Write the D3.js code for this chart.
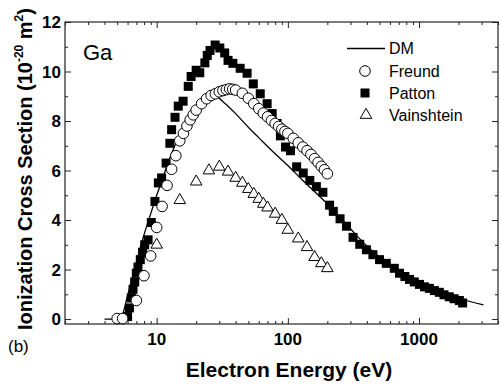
<!DOCTYPE html>
<html>
<head>
<meta charset="utf-8">
<script src="https://cdn.jsdelivr.net/npm/d3@7"></script>
<style>
  body { margin: 0; background: #fff; }
  text { font-family: "Liberation Sans", Arial, sans-serif; fill: #000; }
</style>
</head>
<body>
<div id="chart"></div>
<script>
//data (energy in eV, cross section in 1e-20 m^2)
var dmEnergy = [4, 5, 5.4, 6, 7, 8, 9, 10, 11, 12, 14, 16, 18, 20, 23, 26.4, 29, 33, 40, 51, 60, 75, 100, 130, 175, 230, 300, 400, 500, 700, 1000, 1500, 2000, 3100];
var dmSigma = [0, 0, 0.1, 0.95, 2.3, 3.4, 4.25, 5.0, 5.6, 6.2, 7.1, 7.7, 8.15, 8.5, 8.85, 8.97, 8.95, 8.72, 8.3, 7.7, 7.33, 6.82, 6.2, 5.6, 4.95, 4.33, 3.65, 2.95, 2.5, 1.98, 1.5, 1.1, 0.84, 0.57];

var freundEnergy = [5.0, 5.5, 7, 8, 9, 10, 11, 12, 13, 14, 15, 16, 17, 18, 19, 20, 22, 24, 26, 28, 30, 32, 34, 36, 38, 40, 45, 50, 55, 60, 65, 70, 75, 80, 85, 90, 95, 100, 110, 120, 130, 140, 150, 160, 170, 180, 190, 200];
var freundSigma = [0.02, 0.02, 0.75, 1.75, 2.55, 3.7, 4.55, 5.4, 6.05, 6.6, 7.2, 7.5, 7.8, 8.05, 8.25, 8.44, 8.7, 8.9, 9.03, 9.1, 9.18, 9.23, 9.27, 9.3, 9.28, 9.25, 9.12, 8.92, 8.7, 8.5, 8.32, 8.17, 8.02, 7.9, 7.78, 7.67, 7.58, 7.5, 7.3, 7.12, 6.95, 6.8, 6.65, 6.48, 6.33, 6.17, 6.03, 5.87];

var pattonEnergy = [6.0, 6.2, 6.4, 6.6, 6.8, 7.0, 7.2, 7.5, 7.8, 8.1, 8.6, 9.1, 9.7, 10.3, 10.9, 11.8, 12.6, 13.0, 13.8, 14.6, 15.9, 17.4, 18.3, 20.0, 21.3, 23.3, 24.3, 25.5, 27.9, 30.3, 33.0, 35.0, 38.1, 43.3, 48.9, 54.5, 61.6, 69.5, 75.9, 82.7, 87.7, 96, 104.7, 116.7, 131, 147, 165, 185, 208, 222, 250, 280, 314, 353, 397, 445, 500, 563, 648, 710, 780, 846, 920, 1008, 1100, 1200, 1310, 1428, 1550, 1700, 1850, 2030, 2150];
var pattonSigma = [0.1, 0.45, 0.85, 1.2, 1.5, 1.85, 2.1, 2.4, 2.7, 3.0, 3.2, 3.9, 4.75, 5.5, 5.7, 6.3, 7.1, 7.65, 8.15, 8.6, 8.8, 9.4, 9.8, 10.05, 9.95, 10.35, 10.65, 10.85, 11.07, 10.95, 10.75, 10.45, 10.33, 10.13, 9.93, 9.5, 9.1, 8.7, 8.3, 7.9, 7.4, 6.95, 6.8, 6.15, 5.9, 5.6, 5.35, 5.12, 4.6, 4.35, 4.05, 3.75, 3.3, 3.02, 2.8, 2.6, 2.4, 2.25, 2.05, 1.85, 1.72, 1.6, 1.5, 1.4, 1.3, 1.24, 1.15, 1.08, 0.98, 0.9, 0.82, 0.75, 0.65];

var vainEnergy = [10, 15, 20, 25, 30, 35, 40, 45, 50, 55, 60, 65, 70, 80, 90, 100, 120, 140, 160, 180, 200];
var vainSigma = [3.0, 4.8, 5.55, 6.0, 6.15, 5.95, 5.7, 5.5, 5.25, 5.05, 4.85, 4.65, 4.5, 4.25, 4.0, 3.6, 3.25, 2.9, 2.5, 2.25, 2.05];

var yTicks = [0, 2, 4, 6, 8, 10, 12];
var xTicks = [10, 100, 1000];
var legendNames = ["DM", "Freund", "Patton", "Vainshtein"];

//svg and plot area
var svgW = 501;
var svgH = 387;
var margin = { top: 22, right: 3, bottom: 63, left: 65 };
var width = svgW - margin.left - margin.right;
var height = svgH - margin.top - margin.bottom;

var svg = d3.select("#chart").append("svg")
    .attr("width", svgW)
    .attr("height", svgH);

var chartGroup = svg.append("g")
    .attr("transform", `translate(${margin.left}, ${margin.top})`);

//scales
var x = d3.scaleLog().domain([2, 4000]).range([0, width]);
var y = d3.scaleLinear().domain([-0.2, 12]).range([height, 0]);

//minor tick values for log axis
var xMinor = [];
[1, 10, 100, 1000].forEach(function(dec) {
    for (var k = 2; k <= 9; k++) {
        var v = k * dec;
        if (v >= 2 && v <= 4000) xMinor.push(v);
    }
});
var yMinor = [1, 3, 5, 7, 9, 11];

//axes with inward ticks, on all four sides
function drawTicks(axis, values, size, transform) {
    chartGroup.append("g")
        .attr("transform", transform)
        .call(axis.tickValues(values).tickSize(size).tickFormat(""))
        .call(g => g.select(".domain").remove())
        .selectAll("line").attr("stroke", "#222").attr("stroke-width", 1);
}
drawTicks(d3.axisTop(x), xTicks, 6, `translate(0, ${height})`);
drawTicks(d3.axisTop(x), xMinor, 3, `translate(0, ${height})`);
drawTicks(d3.axisBottom(x), xTicks, 6, "translate(0, 0)");
drawTicks(d3.axisBottom(x), xMinor, 3, "translate(0, 0)");
drawTicks(d3.axisRight(y), yTicks, 6, "translate(0, 0)");
drawTicks(d3.axisRight(y), yMinor, 3, "translate(0, 0)");
drawTicks(d3.axisLeft(y), yTicks, 6, `translate(${width}, 0)`);
drawTicks(d3.axisLeft(y), yMinor, 3, `translate(${width}, 0)`);

//frame
chartGroup.append("rect")
    .attr("width", width)
    .attr("height", height)
    .attr("fill", "none")
    .attr("stroke", "#222")
    .attr("stroke-width", 1.2);

//tick labels
chartGroup.selectAll(".ylab")
    .data(yTicks)
    .enter()
    .append("text")
    .attr("x", -4)
    .attr("y", d => y(d) + 6)
    .attr("text-anchor", "end")
    .attr("font-size", "17px")
    .attr("font-weight", "bold")
    .text(d => d);

chartGroup.selectAll(".xlab")
    .data(xTicks)
    .enter()
    .append("text")
    .attr("x", d => x(d))
    .attr("y", height + 21)
    .attr("text-anchor", "middle")
    .attr("font-size", "17px")
    .attr("font-weight", "bold")
    .text(d => d);

//axis titles
svg.append("text")
    .attr("x", 289)
    .attr("y", 377)
    .attr("text-anchor", "middle")
    .attr("font-size", "21px")
    .attr("font-weight", "bold")
    .text("Electron Energy (eV)");

var yTitle = svg.append("text")
    .attr("transform", "translate(32, 169) rotate(-90)")
    .attr("text-anchor", "middle")
    .attr("font-size", "20px")
    .attr("font-weight", "bold");
yTitle.append("tspan").text("Ionization Cross Section (10");
yTitle.append("tspan").attr("font-size", "12px").attr("dy", -9).text("-20");
yTitle.append("tspan").attr("dy", 9).text(" m");
yTitle.append("tspan").attr("font-size", "12px").attr("dy", -9).text("2");
yTitle.append("tspan").attr("dy", 9).text(")");

svg.append("text")
    .attr("x", 8)
    .attr("y", 352)
    .attr("font-size", "17px")
    .text("(b)");

svg.append("text")
    .attr("x", 83)
    .attr("y", 60)
    .attr("font-size", "22px")
    .text("Ga");

//DM line
var line = d3.line()
    .x(d => x(d[0]))
    .y(d => y(d[1]))
    .curve(d3.curveMonotoneX);

chartGroup.append("path")
    .datum(d3.zip(dmEnergy, dmSigma))
    .attr("d", line)
    .attr("fill", "none")
    .attr("stroke", "#000")
    .attr("stroke-width", 1.3);

//Patton filled squares
var sq = 9;
chartGroup.selectAll(".patton")
    .data(d3.zip(pattonEnergy, pattonSigma))
    .enter()
    .append("rect")
    .attr("x", d => x(d[0]) - sq / 2)
    .attr("y", d => y(d[1]) - sq / 2)
    .attr("width", sq)
    .attr("height", sq)
    .attr("fill", "#000");

//Freund open circles
chartGroup.selectAll(".freund")
    .data(d3.zip(freundEnergy, freundSigma))
    .enter()
    .append("circle")
    .attr("cx", d => x(d[0]))
    .attr("cy", d => y(d[1]))
    .attr("r", 5.3)
    .attr("fill", "#fff")
    .attr("stroke", "#000")
    .attr("stroke-width", 1);

//Vainshtein open triangles
var tri = d3.symbol().type(d3.symbolTriangle).size(58);
chartGroup.selectAll(".vain")
    .data(d3.zip(vainEnergy, vainSigma))
    .enter()
    .append("path")
    .attr("d", tri)
    .attr("transform", d => `translate(${x(d[0])}, ${y(d[1])})`)
    .attr("fill", "#fff")
    .attr("stroke", "#000")
    .attr("stroke-width", 1);

//legend
var legend = svg.append("g");
var rowY = [48.5, 71, 93, 115];

legend.append("line")
    .attr("x1", 347).attr("x2", 385)
    .attr("y1", rowY[0]).attr("y2", rowY[0])
    .attr("stroke", "#000").attr("stroke-width", 1.3);
legend.append("circle")
    .attr("cx", 365).attr("cy", rowY[1]).attr("r", 5.3)
    .attr("fill", "#fff").attr("stroke", "#000");
legend.append("rect")
    .attr("x", 365 - sq / 2).attr("y", rowY[2] - sq / 2)
    .attr("width", sq).attr("height", sq).attr("fill", "#000");
legend.append("path")
    .attr("d", tri)
    .attr("transform", `translate(366, ${rowY[3]})`)
    .attr("fill", "#fff").attr("stroke", "#000");

legend.selectAll("text")
    .data(legendNames)
    .enter()
    .append("text")
    .attr("x", 389)
    .attr("y", (d, i) => rowY[i] + 5.5)
    .attr("font-size", "16px")
    .text(d => d);
</script>
</body>
</html>
